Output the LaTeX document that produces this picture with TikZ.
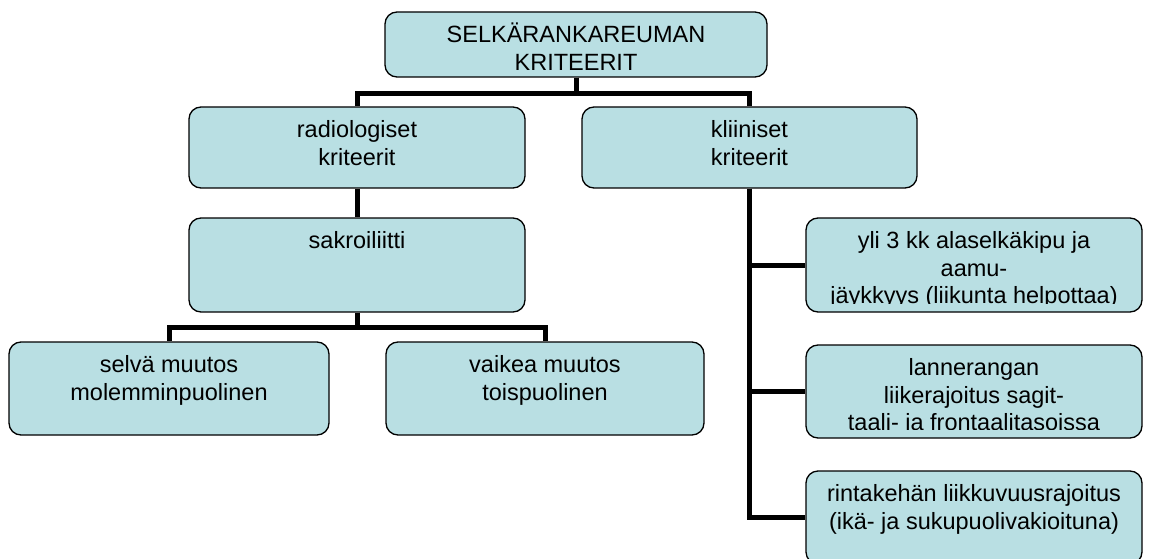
\documentclass[tikz,border=0pt]{standalone}
\usepackage{fontspec}
\setmainfont{Liberation Sans}
\usetikzlibrary{calc}
\definecolor{boxfill}{RGB}{185,223,227}
% invisible strut that fixes the first baseline below the top of a label
\newcommand\capline{\rule{0pt}{24pt}}
% label clipped to the inner area of its box (optional: bottom inset)
\newcommand\boxlabel[4][9]{%
  \begin{scope}
    \clip (#2.north west) rectangle ($(#2.south east)+(0,-#1)$);
    \node[txt] (#3) at ($(#2.north)+(0,7)$) {\capline #4};
  \end{scope}}
\begin{document}
\begin{tikzpicture}[x=1pt,y=-1pt,
  box/.style={draw=black, line width=1.3pt, fill=boxfill, rounded corners=12pt, inner sep=0pt},
  txt/.style={anchor=north, inner sep=0pt, align=center, text=black,
              font=\fontsize{23.5}{27.5}\selectfont},
  conn/.style={draw=black, line width=5pt}]
\clip (0,0) rectangle (1149,559);

% boxes
\node[box, minimum width=382pt, minimum height=65pt] (top) at (576,44.5) {};
\node[box, minimum width=336pt, minimum height=81pt] (rad) at (357,147.5) {};
\node[box, minimum width=335pt, minimum height=81pt] (kli) at (749.5,147.5) {};
\node[box, minimum width=336pt, minimum height=94pt] (sak) at (357,265) {};
\node[box, minimum width=320pt, minimum height=93pt] (sel) at (169,388.5) {};
\node[box, minimum width=318pt, minimum height=93pt] (vai) at (545,388.5) {};
\node[box, minimum width=336pt, minimum height=94pt] (yli) at (974,265) {};
\node[box, minimum width=336pt, minimum height=93pt] (lan) at (974,391.5) {};
\node[box, minimum width=336pt, minimum height=93pt] (rin) at (974,517.5) {};

% labels
\boxlabel[0]{top}{top-t}{SELKÄRANKAREUMAN\\KRITEERIT}
\boxlabel{rad}{rad-t}{radiologiset\\kriteerit}
\boxlabel{kli}{kli-t}{kliiniset\\kriteerit}
\boxlabel{sak}{sak-t}{sakroiliitti}
\boxlabel{sel}{sel-t}{selvä muutos\\molemminpuolinen}
\boxlabel{vai}{vai-t}{vaikea muutos\\toispuolinen}
\boxlabel{yli}{yli-t}{yli 3 kk alaselkäkipu ja\\aamu-\\jäykkyys (liikunta helpottaa)}
\boxlabel{lan}{lan-t}{lannerangan\\liikerajoitus sagit-\\taali- ja frontaalitasoissa}
\boxlabel{rin}{rin-t}{rintakehän liikkuvuusrajoitus\\(ikä- ja sukupuolivakioituna)}

% connectors
\draw[conn] (top.south) -- ++(0,16) -| (rad.north);
\draw[conn] (top.south) -- ++(0,16) -| (kli.north);
\draw[conn] (rad.south) -- (sak.north);
\draw[conn] (sak.south) -- ++(0,15) -| (sel.north);
\draw[conn] (sak.south) -- ++(0,15) -| (vai.north);
\draw[conn] (kli.south) |- (yli.west);
\draw[conn] (kli.south) |- (lan.west);
\draw[conn] (kli.south) |- (rin.west);
\end{tikzpicture}
\end{document}
